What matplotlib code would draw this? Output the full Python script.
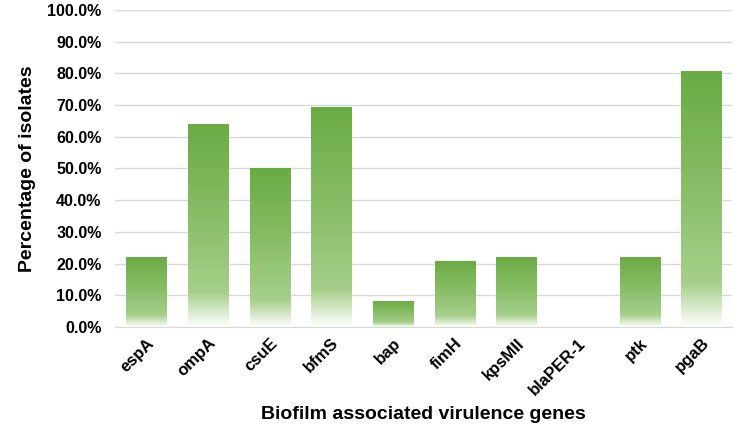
import numpy as np
import matplotlib.pyplot as plt
from matplotlib.colors import LinearSegmentedColormap
from matplotlib.ticker import PercentFormatter

genes = ['espA', 'ompA', 'csuE', 'bfmS', 'bap', 'fimH', 'kpsMII', 'blaPER-1', 'ptk', 'pgaB']
percent = [22.2, 63.9, 50.0, 69.4, 8.3, 20.8, 22.2, 0.0, 22.2, 80.6]

plt.rcParams['font.family'] = ['Liberation Sans', 'DejaVu Sans']
plt.rcParams['font.weight'] = 'bold'

fig = plt.figure(figsize=(7.35, 4.26), dpi=100)
ax = fig.add_axes([0.157, 0.232, 0.839, 0.745])

# top dark green -> light green -> white at the base
cmap = LinearSegmentedColormap.from_list(
    'fade', [(0.0, '#ffffff'), (0.17, '#a6cf8b'), (0.55, '#88bd66'), (1.0, '#6aab44')])
grad = np.linspace(0, 1, 256).reshape(-1, 1)

x = np.arange(len(genes))
bars = ax.bar(x, percent, width=0.65, color='none', edgecolor='none', zorder=3)
for b in bars:
    h = b.get_height()
    if h <= 0:
        continue
    x0 = b.get_x()
    im = ax.imshow(grad, cmap=cmap, aspect='auto', origin='lower',
                   extent=[x0, x0 + b.get_width(), 0, h], zorder=3)
    im.set_clip_path(b)

ax.set_xlim(-0.5, len(genes) - 0.5)
ax.set_ylim(0, 100)
ax.set_yticks(np.arange(0, 101, 10))
ax.yaxis.set_major_formatter(PercentFormatter(decimals=1))
ax.grid(axis='y', color='#d9d9d9', linewidth=1, zorder=0)
ax.set_axisbelow(True)
for s in ['top', 'right', 'left']:
    ax.spines[s].set_visible(False)
ax.spines['bottom'].set_color('#d9d9d9')
ax.tick_params(length=0, labelsize=11.5)
ax.tick_params(axis='y', pad=10)
ax.tick_params(axis='x', labelsize=12, pad=6)
ax.set_xticks(x)
ax.set_xticklabels(genes, rotation=45, ha='right', rotation_mode='anchor', fontweight='bold')
ax.set_ylabel('Percentage of isolates', fontsize=14, fontweight='bold', labelpad=8)
ax.set_xlabel('Biofilm associated virulence genes', fontsize=14, fontweight='bold', labelpad=6)

fig.savefig('out.png', dpi=100)
